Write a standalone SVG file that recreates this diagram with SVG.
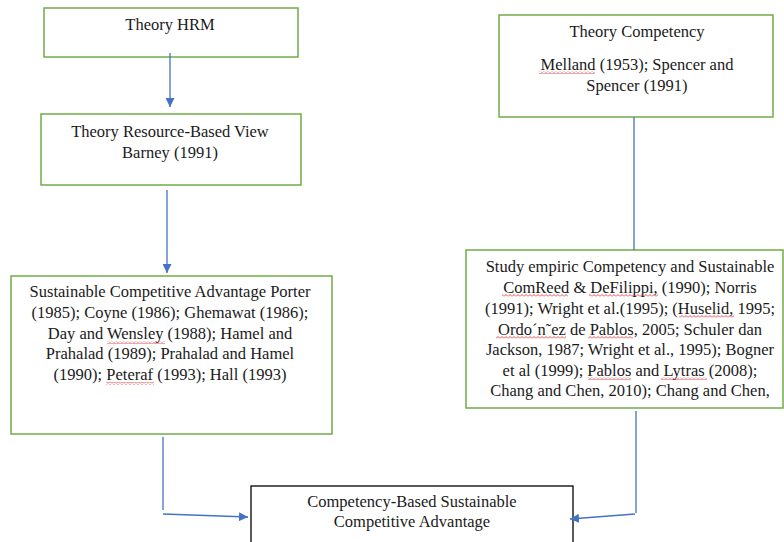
<svg xmlns="http://www.w3.org/2000/svg" width="784" height="542" viewBox="0 0 784 542">
<style>
.box{fill:#fff;stroke:#70ad47;stroke-width:1.5}
.box6{fill:#fff;stroke:#000;stroke-width:1.3}
.t text{font-family:'Liberation Serif','Times New Roman','DejaVu Serif',serif;font-size:16.5px;fill:#1a1a1a;text-anchor:middle}
.con{fill:none;stroke:#4472c4;stroke-width:1.3}
.sq{fill:url(#wave);stroke:none}
</style>
<defs>
<marker id="ah" viewBox="0 0 10 10" refX="10" refY="5" markerWidth="9" markerHeight="9" markerUnits="userSpaceOnUse" orient="auto">
<path d="M0,0 L10,5 L0,10 z" fill="#4472c4"/>
</marker>
<pattern id="wave" patternUnits="userSpaceOnUse" x="0" y="0" width="4" height="3">
<path d="M0,2.5 L2,0.5 L4,2.5" fill="none" stroke="#e02020" stroke-width="0.8"/>
</pattern>
</defs>
<g id="n1" class="t" font-family="Liberation Serif, serif">
<rect class="box" x="44" y="8" width="254" height="49"/>
<text x="170" y="30">Theory HRM</text>
</g>
<g id="n2" class="t" font-family="Liberation Serif, serif">
<rect class="box" x="41" y="114" width="260" height="71"/>
<text x="170" y="137">Theory Resource-Based View</text>
<text x="170" y="158">Barney (1991)</text>
</g>
<g id="n3" class="t" font-family="Liberation Serif, serif">
<rect class="box" x="499" y="15" width="274" height="102"/>
<text x="637" y="37">Theory Competency</text>
<text x="637" y="70">Melland (1953); Spencer and</text>
<text x="637" y="91">Spencer (1991)</text>
<rect class="sq" x="539" y="71" width="56" height="3"/>
</g>
<g id="n4" class="t" font-family="Liberation Serif, serif">
<rect class="box" x="11" y="276" width="321" height="158"/>
<text x="170" y="297">Sustainable Competitive Advantage Porter</text>
<text x="170" y="318">(1985); Coyne (1986); Ghemawat (1986);</text>
<text x="170" y="339">Day and Wensley (1988); Hamel and</text>
<text x="170" y="359">Prahalad (1989); Prahalad and Hamel</text>
<text x="170" y="380">(1990); Peteraf (1993); Hall (1993)</text>
<rect class="sq" x="107" y="341" width="58" height="3"/>
<rect class="sq" x="106" y="382" width="48" height="3"/>
</g>
<g id="n5" class="t" font-family="Liberation Serif, serif">
<rect class="box" x="466" y="250" width="317" height="158"/>
<text x="630" y="272">Study empiric Competency and Sustainable</text>
<text x="630" y="293">ComReed &amp; DeFilippi, (1990); Norris</text>
<text x="630" y="314">(1991); Wright et al.(1995); (Huselid, 1995;</text>
<text x="630" y="335">Ordo´n˜ez de Pablos, 2005; Schuler dan</text>
<text x="630" y="355">Jackson, 1987; Wright et al., 1995); Bogner</text>
<text x="630" y="376">et al (1999); Pablos and Lytras (2008);</text>
<text x="630" y="396">Chang and Chen, 2010); Chang and Chen,</text>
<rect class="sq" x="502" y="294" width="66" height="3"/>
<rect class="sq" x="589" y="294" width="69" height="3"/>
<rect class="sq" x="679" y="315" width="55" height="3"/>
<rect class="sq" x="496" y="336" width="70" height="3"/>
<rect class="sq" x="588" y="336" width="45" height="3"/>
<rect class="sq" x="588" y="377" width="43" height="3"/>
<rect class="sq" x="661" y="377" width="46" height="3"/>
</g>
<g id="n6" class="t" font-family="Liberation Serif, serif">
<rect class="box6" x="251" y="486" width="322" height="70"/>
<text x="412" y="507">Competency-Based Sustainable</text>
<text x="412" y="527">Competitive Advantage</text>
</g>
<g id="connectors">
<path class="con" d="M170,53 V107" marker-end="url(#ah)"/>
<path class="con" d="M167,190 V273" marker-end="url(#ah)"/>
<path class="con" d="M634,117 V250"/>
<path class="con" d="M163,437 V510"/>
<path class="con" d="M163,514 L248,517" marker-end="url(#ah)"/>
<path class="con" d="M636,411 V513"/>
<path class="con" d="M635,514 L570,519" marker-end="url(#ah)"/>
</g>
</svg>
